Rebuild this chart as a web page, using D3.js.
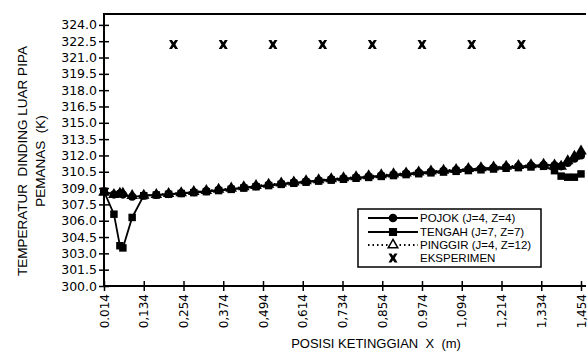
<!DOCTYPE html>
<html><head><meta charset="utf-8">
<script src="https://cdn.jsdelivr.net/npm/d3@7"></script>
<style>body{margin:0;background:#fff}svg{display:block}text{white-space:pre}</style>
</head><body>
<svg id="c" width="588" height="355"></svg>
<script>
// ---- data ----
const xNodes = [0.014,0.044,0.062,0.071,0.099,
 0.134,0.172,0.209,0.247,0.285,0.323,0.360,0.398,0.436,0.473,0.511,0.549,0.587,0.624,0.662,0.700,
 0.737,0.775,0.813,0.851,0.888,0.926,0.964,1.001,1.039,1.077,1.114,1.152,1.190,1.228,1.265,1.303,1.341,
 1.374,1.394,1.414,1.434,1.454];
const pojok = [308.7,308.4,308.5,308.4,308.2,
 308.30,308.38,308.45,308.53,308.62,308.72,308.82,308.93,309.05,309.17,309.28,309.40,309.50,309.60,309.70,309.80,
 309.88,309.97,310.06,310.15,310.24,310.33,310.42,310.50,310.58,310.65,310.72,310.80,310.87,310.94,311.00,311.06,311.12,
 311.1,311.0,311.3,311.7,312.0];
const tengah = [308.7,306.6,303.7,303.5,306.3,
 308.30,308.36,308.43,308.50,308.58,308.67,308.77,308.88,309.00,309.12,309.23,309.34,309.44,309.54,309.64,309.73,
 309.81,309.90,309.98,310.07,310.15,310.24,310.32,310.40,310.47,310.54,310.61,310.68,310.75,310.82,310.88,310.94,311.0,
 310.6,310.1,310.0,310.0,310.3];
const pinggir = [308.6,308.4,308.5,308.5,308.3,
 308.32,308.40,308.48,308.56,308.66,308.76,308.87,308.98,309.10,309.22,309.33,309.45,309.55,309.65,309.75,309.85,
 309.93,310.02,310.11,310.20,310.29,310.38,310.47,310.55,310.63,310.70,310.78,310.86,310.93,311.00,311.06,311.12,311.18,
 311.1,311.0,311.5,311.9,312.4];
const expX = [0.224,0.374,0.524,0.674,0.824,0.974,1.124,1.274];
const expY = [322.2,322.2,322.2,322.2,322.2,322.2,322.2,322.2];
const xTicks = [0.014,0.134,0.254,0.374,0.494,0.614,0.734,0.854,0.974,1.094,1.214,1.334,1.454];
const xTickLabels = ["0.014","0,134","0,254","0,374","0,494","0,614","0,734","0,854","0.974","1,094","1,214","1,334","1,454"];
const yTicks = [300.0,301.5,303.0,304.5,306.0,307.5,309.0,310.5,312.0,313.5,315.0,316.5,318.0,319.5,321.0,322.5,324.0];
const legendLabels = ["POJOK (J=4, Z=4)","TENGAH (J=7, Z=7)","PINGGIR (J=4, Z=12)","EKSPERIMEN"];

// ---- chart ----
const svg = d3.select("#c");
const x = d3.scaleLinear().domain([0.014,1.454]).range([104,581]);
const y = d3.scaleLinear().domain([300,325]).range([286,14]);
const F = "'Liberation Sans', Arial, sans-serif";

// y axis
const ya = svg.append("g").attr("transform","translate(104,0)")
  .call(d3.axisLeft(y).tickValues(yTicks).tickFormat(d3.format(".1f")).tickSize(5).tickPadding(3));
ya.select(".domain").remove();
ya.selectAll(".tick line").attr("x1",-5).attr("x2",5).attr("stroke","#000").attr("stroke-width",1.5);
ya.selectAll(".tick text").attr("font-family","'DejaVu Sans', sans-serif").attr("font-size",12.5).attr("fill","#000").attr("x",-7);
// x axis
const xa = svg.append("g").attr("transform","translate(0,286)")
  .call(d3.axisBottom(x).tickValues(xTicks).tickFormat((d,i)=>xTickLabels[i]).tickSize(5));
xa.select(".domain").remove();
xa.selectAll(".tick line").attr("y1",-5).attr("y2",5).attr("stroke","#000").attr("stroke-width",1.5);
xa.selectAll(".tick text").attr("font-family","'DejaVu Sans', sans-serif").attr("font-size",12).attr("fill","#000")
  .attr("transform","rotate(-90)").attr("text-anchor","end").attr("x",-8).attr("y",0).attr("dy","0.35em");

// axis lines and top border
svg.append("line").attr("x1",104).attr("x2",104).attr("y1",14).attr("y2",287).attr("stroke","#000").attr("stroke-width",2);
svg.append("line").attr("x1",103).attr("x2",586).attr("y1",286).attr("y2",286).attr("stroke","#000").attr("stroke-width",2);
svg.append("line").attr("x1",103).attr("x2",586).attr("y1",14).attr("y2",14).attr("stroke","#000").attr("stroke-width",2);

// titles
svg.append("text").attr("transform","translate(22,161) rotate(-90)").attr("text-anchor","middle")
  .attr("font-family",F).attr("font-size",13.5).attr("dy","0.35em").text("TEMPERATUR  DINDING LUAR PIPA");
svg.append("text").attr("transform","translate(40,161) rotate(-90)").attr("text-anchor","middle")
  .attr("font-family",F).attr("font-size",13.5).attr("dy","0.35em").text("PEMANAS  (K)");
svg.append("text").attr("x",376).attr("y",348).attr("text-anchor","middle")
  .attr("font-family",F).attr("font-size",13).text("POSISI KETINGGIAN  X  (m)");

// series
const line = d3.line().x(d=>x(d[0])).y(d=>y(d[1]));
const zip = arr => xNodes.map((v,i)=>[v,arr[i]]);
const cross = "M-4.5,-4.5L-1.6,-4.5L0,-2.2L1.6,-4.5L4.5,-4.5L1.8,0L4.5,4.5L1.6,4.5L0,2.2L-1.6,4.5L-4.5,4.5L-1.8,0Z";
const series = [
  {name:"pinggir", data:zip(pinggir), dash:"1.5,3", sym:d3.symbolTriangle, size:58},
  {name:"tengah", data:zip(tengah), dash:null, sym:d3.symbolSquare, size:56},
  {name:"pojok", data:zip(pojok), dash:null, sym:d3.symbolCircle, size:52}
];
series.forEach(s=>{
  svg.append("path").datum(s.data).attr("d",line).attr("fill","none").attr("stroke","#000")
    .attr("stroke-width",1.8).attr("stroke-dasharray",s.dash);
});
series.forEach(s=>{
  svg.append("g").selectAll("path").data(s.data).join("path")
    .attr("transform",d=>`translate(${x(d[0])},${y(d[1])})`)
    .attr("d",d3.symbol(s.sym,s.size)).attr("fill","#000");
});
svg.append("g").selectAll("path").data(expX.map((v,i)=>[v,expY[i]])).join("path")
  .attr("transform",d=>`translate(${x(d[0])},${y(d[1])})`).attr("d",cross).attr("fill","#000");

// legend
const lg = svg.append("g");
lg.append("rect").attr("x",358).attr("y",209).attr("width",183).attr("height",58)
  .attr("fill","#fff").attr("stroke","#000").attr("stroke-width",1.5);
const rows = [218,232,245,258];
const lgSym = [
  {dash:null, sym:d3.symbolCircle, size:40, fill:"#000", line:true},
  {dash:null, sym:d3.symbolSquare, size:44, fill:"#000", line:true},
  {dash:"1.5,3", sym:d3.symbolTriangle, size:40, fill:"#fff", line:true},
  {hour:true}
];
legendLabels.forEach((t,i)=>{
  const yy = rows[i], L = lgSym[i];
  if(L.line) lg.append("line").attr("x1",368).attr("x2",418).attr("y1",yy).attr("y2",yy)
      .attr("stroke","#000").attr("stroke-width",1.8).attr("stroke-dasharray",L.dash);
  if(L.hour) lg.append("path").attr("transform",`translate(393,${yy})`).attr("d",cross).attr("fill","#000");
  else lg.append("path").attr("transform",`translate(393,${yy})`).attr("d",d3.symbol(L.sym,L.size))
      .attr("fill",L.fill).attr("stroke","#000").attr("stroke-width",1.5);
  lg.append("text").attr("x",420).attr("y",yy).attr("dy","0.35em").attr("font-family",F)
    .attr("font-size",11.5).text(t);
});
</script>
</body></html>
